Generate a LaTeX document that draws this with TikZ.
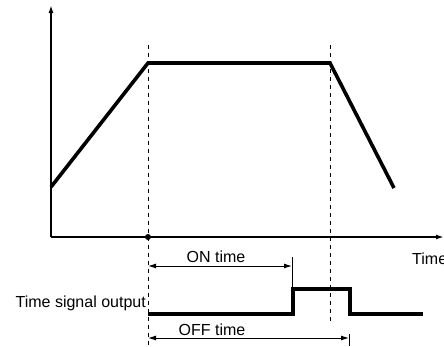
\documentclass[tikz,border=0pt]{standalone}
\usepackage{fontspec}
\setmainfont{Liberation Sans}
\usetikzlibrary{arrows.meta,positioning}

\begin{document}
\begin{tikzpicture}[x=1pt,y=-1pt,font=\fontsize{16}{19}\selectfont,
  axis/.style={line width=1.8pt,-{Latex[length=8pt,width=5pt]}},
  ramp/.style={line width=3.6pt,line join=miter},
  guide/.style={line width=1pt,dash pattern=on 4pt off 4pt},
  dim/.style={line width=1pt,{Latex[length=8pt,width=5pt]}-{Latex[length=8pt,width=5pt]}},
  lbl/.style={inner sep=0pt}]
  \useasboundingbox (0,0) rectangle (444,346);
  % axes
  \coordinate (O) at (51,237);
  \coordinate (ytop) at (51,5);
  \coordinate (xend) at (444,237);
  \draw[axis] (O) -- (ytop);
  \draw[axis] (O) -- (xend);
  \node[lbl,anchor=base west] (tlabel) at (412,264) {Time};
  % speed profile
  \coordinate (c0) at (51,187); \coordinate (c1) at (148,63);
  \coordinate (c2) at (330,63); \coordinate (c3) at (394,188);
  \draw[ramp] (c0) -- (c1) -- (c2) -- (c3);
  % guide lines
  \coordinate (g1t) at (148,45); \coordinate (g1b) at (148,346);
  \coordinate (g2t) at (330,45); \coordinate (g2b) at (330,324);
  \draw[guide] (g1t) -- (g1b);
  \draw[guide] (g2t) -- (g2b);
  \coordinate (t0) at (148,237);
  \fill (t0) circle[radius=3pt];
  % time signal output
  \coordinate (s0) at (148,314); \coordinate (s1) at (293,314);
  \coordinate (s2) at (293,289); \coordinate (s3) at (350,289);
  \coordinate (s4) at (350,314); \coordinate (s5) at (423,314);
  \draw[ramp] (s0) -- (s1) -- (s2) -- (s3) -- (s4) -- (s5);
  \node[lbl,anchor=base east] (sig) at (146,307) {Time signal output};
  % ON / OFF time
  \coordinate (on1) at (148,266); \coordinate (on2) at (292,266);
  \coordinate (ontk) at (292,257); \coordinate (onbk) at (292,288);
  \draw[line width=1pt] (ontk) -- (onbk);
  \draw[dim] (on1) -- (on2);
  \node[lbl,anchor=base] (ontime) at (216,262) {ON time};
  \coordinate (off1) at (148,338); \coordinate (off2) at (349,338);
  \coordinate (offtk) at (349,334); \coordinate (offbk) at (349,346);
  \draw[line width=1pt] (offtk) -- (offbk);
  \draw[dim] (off1) -- (off2);
  \node[lbl,anchor=base] (offtime) at (212,335) {OFF time};
\end{tikzpicture}
\end{document}
